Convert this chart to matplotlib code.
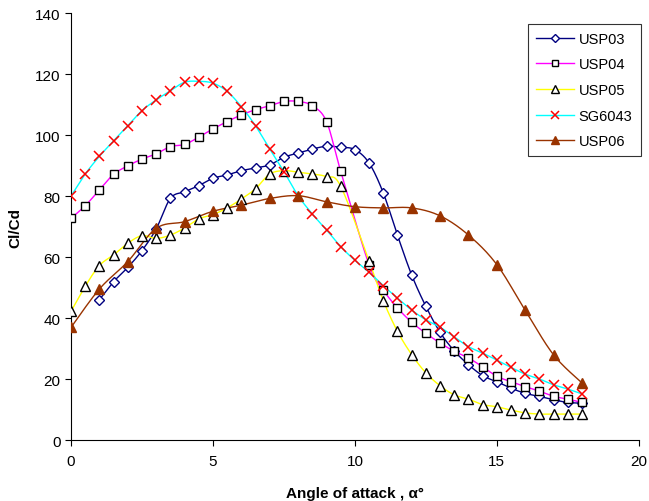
import numpy as np
import matplotlib
matplotlib.use("Agg")
import matplotlib.pyplot as plt
from matplotlib.lines import Line2D

plt.rcParams['font.family'] = ['Liberation Sans', 'DejaVu Sans']

# ---- data -------------------------------------------------------------
usp03_alpha = [1, 1.5, 2, 2.5, 3, 3.5, 4, 4.5, 5, 5.5, 6, 6.5, 7, 7.5, 8, 8.5,
               9, 9.5, 10, 10.5, 11, 11.5, 12, 12.5, 13, 13.5, 14, 14.5, 15,
               15.5, 16, 16.5, 17, 17.5, 18]
usp03_clcd = [46, 51.9, 56.6, 62.1, 69.2, 79.2, 81.4, 83.4, 85.8, 86.9, 88.3,
              89.2, 90.2, 92.7, 94.1, 95.4, 96.3, 96, 95.2, 90.8, 81, 67.1,
              54.1, 43.8, 35.3, 29.2, 24.7, 21.1, 19.1, 17, 15.3, 14.3, 13.2,
              12.3, 12.1]

usp04_alpha = [0, 0.5, 1, 1.5, 2, 2.5, 3, 3.5, 4, 4.5, 5, 5.5, 6, 6.5, 7, 7.5,
               8, 8.5, 9, 9.5, 10.5, 11, 11.5, 12, 12.5, 13, 13.5, 14, 14.5,
               15, 15.5, 16, 16.5, 17, 17.5, 18]
usp04_clcd = [72.7, 76.8, 82, 87.1, 89.9, 92.1, 93.8, 96.2, 96.9, 99.3, 102,
              104.4, 106.6, 108.3, 109.6, 111, 111, 109.6, 104.4, 88.1, 57.4,
              49.2, 43.3, 38.6, 35, 31.8, 29.1, 26.9, 24, 20.9, 19.1, 17.5,
              16, 14.3, 13.4, 12.3]

usp05_alpha = [0, 0.5, 1, 1.5, 2, 2.5, 3, 3.5, 4, 4.5, 5, 5.5, 6, 6.5, 7, 7.5,
               8, 8.5, 9, 9.5, 10.5, 11, 11.5, 12, 12.5, 13, 13.5, 14, 14.5,
               15, 15.5, 16, 16.5, 17, 17.5, 18]
usp05_clcd = [42.2, 50.4, 57.2, 60.7, 64.5, 67, 66.1, 67.2, 69.5, 72.5, 73.9,
              76.1, 79, 82.4, 87.2, 88.3, 87.8, 87.2, 86.3, 83.2, 58.7, 45.7,
              35.6, 28, 22, 17.8, 14.8, 13.4, 11.6, 10.9, 9.8, 8.9, 8.5, 8.5,
              8.5, 8.5]

sg6043_alpha = [0, 0.5, 1, 1.5, 2, 2.5, 3, 3.5, 4, 4.5, 5, 5.5, 6, 6.5, 7, 7.5,
                8, 8.5, 9, 9.5, 10, 10.5, 11, 11.5, 12, 12.5, 13, 13.5, 14,
                14.5, 15, 15.5, 16, 16.5, 17, 17.5, 18]
sg6043_clcd = [80, 87.2, 93, 98.1, 103, 108, 111.5, 114.5, 117.3, 117.6, 117,
               114.3, 109.3, 103, 95.4, 88, 80.1, 74.1, 68.9, 63.4, 58.9, 55,
               50.6, 46.5, 42.6, 39.4, 37, 33.8, 30.6, 28.5, 26.2, 23.8, 21.6,
               20, 18.1, 16.7, 15.1]

usp06_alpha = [0, 1, 2, 3, 4, 5, 6, 7, 8, 9, 10, 11, 12, 13, 14, 15, 16, 17, 18]
usp06_clcd = [36.9, 49.5, 58.5, 69.4, 71.6, 75, 77, 79.2, 80.1, 78.1, 76.5,
              76.1, 76.1, 73.5, 67.2, 57.5, 42.5, 27.9, 18.7]

x_ticks = [0, 5, 10, 15, 20]
y_ticks = [0, 20, 40, 60, 80, 100, 120, 140]


def smooth(xs, ys, sx=28.4, sy=3.05, n=20):
    """Bezier smoothing through the points (spreadsheet-style smoothed line)."""
    p = np.column_stack([np.asarray(xs, float) * sx, np.asarray(ys, float) * sy])
    if len(p) < 3:
        return xs, ys
    ext = np.vstack([p[0], p, p[-1]])
    out = [p[:1]]
    t = np.linspace(0, 1, n)[1:, None]
    for i in range(len(p) - 1):
        p0, p1, p2, p3 = ext[i], ext[i + 1], ext[i + 2], ext[i + 3]
        c1 = p1 + (p2 - p0) / 6.0
        c2 = p2 - (p3 - p1) / 6.0
        seg = ((1 - t) ** 3) * p1 + 3 * ((1 - t) ** 2) * t * c1 \
            + 3 * (1 - t) * t ** 2 * c2 + t ** 3 * p2
        out.append(seg)
    arr = np.vstack(out)
    return arr[:, 0] / sx, arr[:, 1] / sy


series = [
    ("USP03", usp03_alpha, usp03_clcd, dict(color="#000080", marker="D", ms=5,
                                             mfc="white", mec="#000080", mew=1.0)),
    ("USP04", usp04_alpha, usp04_clcd, dict(color="#FF00FF", marker="s", ms=6,
                                             mfc="white", mec="black", mew=1.0)),
    ("USP05", usp05_alpha, usp05_clcd, dict(color="#FFFF00", marker="^", ms=7,
                                             mfc="white", mec="black", mew=1.0)),
    ("SG6043", sg6043_alpha, sg6043_clcd, dict(color="#00FFFF", marker="x", ms=7,
                                                mfc="red", mec="red", mew=1.1)),
    ("USP06", usp06_alpha, usp06_clcd, dict(color="#993300", marker="^", ms=7,
                                             mfc="#993300", mec="#993300", mew=1.0)),
]

fig = plt.figure(figsize=(6.49, 5.02), dpi=100)
ax = fig.add_axes([0.1094, 0.1215, 0.8749, 0.8506])

handles = []
for name, xs, ys, st in series:
    sxs, sys_ = smooth(xs, ys)
    ax.plot(sxs, sys_, color=st["color"], lw=1.0, zorder=2)
    ax.plot(xs, ys, ls="none", marker=st["marker"], ms=st["ms"],
            mfc=st["mfc"], mec=st["mec"], mew=st["mew"], zorder=3)
    handles.append(Line2D([], [], color=st["color"], lw=1.0, marker=st["marker"],
                          ms=st["ms"] - 1, mfc=st["mfc"], mec=st["mec"],
                          mew=st["mew"], label=name))

ax.set_xlim(0, 20)
ax.set_ylim(0, 140)
ax.set_xticks(x_ticks)
ax.set_yticks(y_ticks)
ax.tick_params(axis="both", labelsize=11, direction="out", length=4, width=0.8,
               colors="black")
ax.tick_params(axis="x", pad=6)
for s in ("top", "right"):
    ax.spines[s].set_visible(False)
for s in ("left", "bottom"):
    ax.spines[s].set_linewidth(0.8)

ax.set_xlabel("Angle of attack , α°", fontsize=11, fontweight="bold", labelpad=13)
ax.set_ylabel("Cl/Cd", fontsize=11, fontweight="bold", labelpad=9)

leg = ax.legend(handles=handles, loc="upper right", bbox_to_anchor=(1.003, 0.975),
                fontsize=10.5, frameon=True, fancybox=False, edgecolor="black",
                handlelength=2.6, handletextpad=0.3, labelspacing=0.8,
                borderpad=0.55, borderaxespad=0)
leg.get_frame().set_linewidth(0.8)

fig.savefig("out.png", dpi=100)
